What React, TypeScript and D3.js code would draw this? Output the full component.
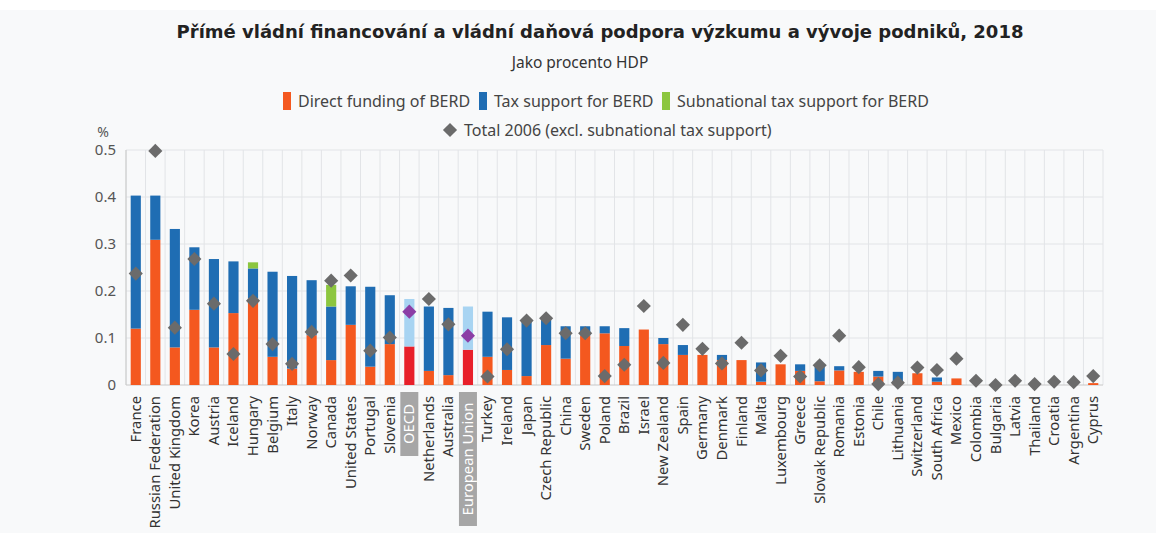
import React from 'react';
import * as d3 from 'd3';

const countries = [
  'France', 'Russian Federation', 'United Kingdom', 'Korea', 'Austria', 'Iceland', 'Hungary', 'Belgium',
  'Italy', 'Norway', 'Canada', 'United States', 'Portugal', 'Slovenia', 'OECD', 'Netherlands', 'Australia',
  'European Union', 'Turkey', 'Ireland', 'Japan', 'Czech Republic', 'China', 'Sweden', 'Poland', 'Brazil',
  'Israel', 'New Zealand', 'Spain', 'Germany', 'Denmark', 'Finland', 'Malta', 'Luxembourg', 'Greece',
  'Slovak Republic', 'Romania', 'Estonia', 'Chile', 'Lithuania', 'Switzerland', 'South Africa', 'Mexico',
  'Colombia', 'Bulgaria', 'Latvia', 'Thailand', 'Croatia', 'Argentina', 'Cyprus',
];

const directFunding = [
  0.12, 0.309, 0.08, 0.16, 0.08, 0.153, 0.184, 0.06, 0.035, 0.106, 0.053, 0.128, 0.039, 0.087, 0.082, 0.03,
  0.021, 0.075, 0.06, 0.032, 0.019, 0.085, 0.056, 0.105, 0.11, 0.083, 0.118, 0.087, 0.064, 0.064, 0.053,
  0.053, 0.007, 0.044, 0.03, 0.008, 0.031, 0.028, 0.018, 0.002, 0.025, 0.007, 0.014, 0, 0, 0, 0, 0, 0, 0.004,
];

const taxSupport = [
  0.283, 0.094, 0.252, 0.133, 0.188, 0.11, 0.064, 0.181, 0.197, 0.117, 0.114, 0.082, 0.17, 0.104, 0.101,
  0.137, 0.143, 0.092, 0.096, 0.112, 0.119, 0.055, 0.069, 0.02, 0.015, 0.038, 0, 0.013, 0.021, 0, 0.011, 0,
  0.041, 0, 0.014, 0.034, 0.009, 0, 0.012, 0.026, 0, 0.009, 0, 0, 0, 0, 0, 0, 0, 0,
];

const subnationalTax = [
  0, 0, 0, 0, 0, 0, 0.013, 0, 0, 0, 0.046, 0, 0, 0, 0, 0, 0, 0, 0, 0, 0, 0, 0, 0, 0, 0, 0, 0, 0, 0, 0, 0,
  0, 0, 0, 0, 0, 0, 0, 0, 0, 0, 0, 0, 0, 0, 0, 0, 0, 0,
];

const total2006 = [
  0.237, 0.498, 0.122, 0.268, 0.173, 0.066, 0.179, 0.087, 0.045, 0.113, 0.222, 0.233, 0.073, 0.101, 0.156,
  0.183, 0.129, 0.105, 0.018, 0.076, 0.137, 0.142, 0.11, 0.11, 0.019, 0.043, 0.168, 0.047, 0.128, 0.077,
  0.046, 0.09, 0.031, 0.062, 0.018, 0.042, 0.105, 0.038, 0.002, 0.005, 0.037, 0.032, 0.056, 0.009, 0,
  0.009, 0.002, 0.007, 0.006, 0.019,
];

const aggregates = ['OECD', 'European Union'];
const yTicks = [0, 0.1, 0.2, 0.3, 0.4, 0.5];

const C = {
  direct: '#f4581f',
  tax: '#1f6db3',
  sub: '#8cc63f',
  aggDirect: '#e8202a',
  aggTax: '#a8d4f2',
  diamond: '#6b6b6b',
  aggDiamond: '#8c3ea6',
  grid: '#e2e4e7',
  text: '#555555',
};

const legendItems = [
  { label: 'Direct funding of BERD', color: C.direct, x: 283 },
  { label: 'Tax support for BERD', color: C.tax, x: 479 },
  { label: 'Subnational tax support for BERD', color: C.sub, x: 662 },
];

export default function App() {
  const W = 1156;
  const H = 533;
  const left = 126;
  const right = 1103;

  const x = d3.scaleBand<string>().domain(countries).range([left, right]).paddingInner(0.48).paddingOuter(0.24);
  const y = d3.scaleLinear().domain([0, 0.5]).range([385, 150]);
  const step = x.step();
  const bw = x.bandwidth();

  const diamond = (cx: number, cy: number, fill: string, key: string) => (
    <rect key={key} x={-5} y={-5} width={10} height={10} fill={fill}
      transform={`translate(${cx},${cy}) rotate(45)`} />
  );

  const labelFont = '"Noto Sans", "Open Sans", sans-serif';

  return (
    <svg width={W} height={H} style={{ position: 'absolute', left: 0, top: 0, background: '#ffffff' }}>
      <rect x={0} y={10} width={W} height={H - 10} fill="#f8f9fa" />

      <text x={600} y={38} textAnchor="middle" fontFamily='"DejaVu Sans", sans-serif' fontWeight="bold"
        fontSize={18} fill="#222">
        Přímé vládní financování a vládní daňová podpora výzkumu a vývoje podniků, 2018
      </text>
      <text x={580} y={68} textAnchor="middle" fontFamily={labelFont} fontSize={15.5} fill="#333">
        Jako procento HDP
      </text>

      {legendItems.map((d) => (
        <g key={d.label} fontFamily={labelFont} fontSize={16} fill="#444">
          <rect x={d.x} y={92} width={8} height={18} fill={d.color} />
          <text x={d.x + 15} y={107}>{d.label}</text>
        </g>
      ))}
      {diamond(450, 130, C.diamond, 'legend-diamond')}
      <text x={464} y={136} fontFamily={labelFont} fontSize={16} fill="#444">
        Total 2006 (excl. subnational tax support)
      </text>

      {/* grid */}
      {yTicks.slice(1).map((t) => (
        <line key={`h${t}`} x1={left} x2={right} y1={y(t)} y2={y(t)} stroke={C.grid} />
      ))}
      {d3.range(countries.length + 1).map((i) => (
        <line key={`v${i}`} x1={left + i * step} x2={left + i * step} y1={y(0.5)} y2={y(0)} stroke={C.grid} />
      ))}
      <line x1={left} x2={left} y1={y(0.5)} y2={y(0)} stroke="#c8c8c8" />
      <line x1={left} x2={right} y1={y(0)} y2={y(0)} stroke="#c8c8c8" />

      {yTicks.map((t) => (
        <text key={`yt${t}`} x={116} y={y(t) + 5} textAnchor="end" fontFamily={labelFont} fontSize={15}
          fill={C.text}>{d3.format('')(t)}</text>
      ))}
      <text x={103} y={137} textAnchor="middle" fontFamily={labelFont} fontSize={14} fill={C.text}>%</text>

      {/* bars */}
      {countries.map((c, i) => {
        const agg = aggregates.includes(c);
        const x0 = x(c) as number;
        const d = directFunding[i];
        const t = d + taxSupport[i];
        const s = t + subnationalTax[i];
        return (
          <g key={`b${c}`}>
            {d > 0 && <rect x={x0} width={bw} y={y(d)} height={y(0) - y(d)} fill={agg ? C.aggDirect : C.direct} />}
            {taxSupport[i] > 0 && <rect x={x0} width={bw} y={y(t)} height={y(d) - y(t)} fill={agg ? C.aggTax : C.tax} />}
            {subnationalTax[i] > 0 && <rect x={x0} width={bw} y={y(s)} height={y(t) - y(s)} fill={C.sub} />}
          </g>
        );
      })}

      {countries.map((c, i) =>
        diamond((x(c) as number) + bw / 2, y(total2006[i]), aggregates.includes(c) ? C.aggDiamond : C.diamond, `d${c}`)
      )}

      {/* x labels */}
      {countries.map((c) => {
        const cx = (x(c) as number) + bw / 2;
        const agg = aggregates.includes(c);
        const boxH = c === 'OECD' ? 64 : 134;
        return (
          <g key={`l${c}`} transform={`translate(${cx},392) rotate(-90)`}>
            {agg && <rect x={-boxH} y={-9} width={boxH} height={18} fill="#a6a6a6" />}
            <text x={agg ? -boxH / 2 : -4} y={5} textAnchor={agg ? 'middle' : 'end'} fontFamily={labelFont}
              fontSize={14.8} fill={agg ? '#ffffff' : '#333'}>{c}</text>
          </g>
        );
      })}
    </svg>
  );
}
